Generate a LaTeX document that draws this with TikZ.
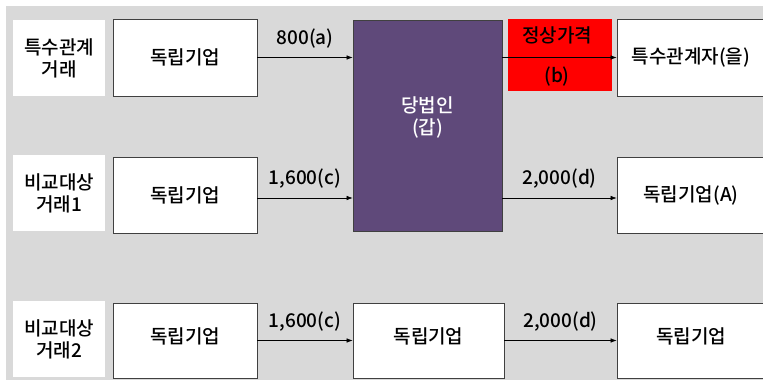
\documentclass[tikz,border=0pt]{standalone}
\usepackage{fontspec}
\setmainfont{Noto Sans CJK KR Medium}
\usetikzlibrary{arrows.meta}
\definecolor{bggray}{HTML}{D9D9D9}
\definecolor{gappurple}{HTML}{5F497A}
\definecolor{redbox}{HTML}{FF0000}
\tikzset{
  every node/.style={font=\fontsize{19}{22}\selectfont, inner sep=0pt},
  box/.style={draw=black!75, line width=0.8pt, fill=white, minimum height=76pt},
  tag/.style={fill=white, minimum width=92pt, minimum height=76pt, align=center},
  conn/.style={-{Latex[length=6pt,width=4.5pt]}, line width=0.6pt, black},
  amt/.style={above=9pt, midway}
}
\begin{document}
\begin{tikzpicture}[x=1pt,y=-1pt]
\useasboundingbox (0,0) rectangle (763,383);
\fill[bggray] (6,6) rectangle (770,380);

% row 1
\node[tag] (t1) at (59,58) {특수관계\\거래};
\node[box, minimum width=144pt, minimum height=77pt] (b1) at (185,57.5) {독립기업};
\node[draw=black!75, line width=0.8pt, fill=gappurple, minimum width=149pt, minimum height=211pt] (gap) at (427.5,125.5) {};
\node[text=white, align=center] (gaptext) at (427.5,117) {당법인\\(갑)};
\node[fill=redbox, minimum width=104pt, minimum height=72pt] (red) at (560,55) {};
\node (redtop) at (557,35) {정상가격};
\node (redbot) at (557,77) {(b)};
\node[box, minimum width=148pt, minimum height=77pt] (r1) at (691,57.5) {특수관계자(을)};

\draw[conn] (b1.east) -- node[amt] (l1) {800(a)} (gap.west |- b1.east);
\draw[conn] (gap.east |- r1.west) -- (r1.west);

% row 2
\node[tag] (t2) at (59,193) {비교대상\\거래1};
\node[box, minimum width=144pt] (b2) at (185,195) {독립기업};
\node[box, minimum width=148pt] (r2) at (691,195) {독립기업(A)};
\draw[conn] ([yshift=-3pt]b2.east) -- node[amt] (l2) {1,600(c)} ([yshift=-3pt]gap.west |- b2.east);
\draw[conn] ([yshift=-3pt]gap.east |- r2.west) -- node[amt] (l3) {2,000(d)} ([yshift=-3pt]r2.west);

% row 3
\node[tag] (t3) at (59,339) {비교대상\\거래2};
\node[box, minimum width=144pt, minimum height=75pt] (b3) at (185,340.5) {\raisebox{10pt}{독립기업}};
\node[box, minimum width=151pt, minimum height=75pt] (m3) at (428.5,340.5) {\raisebox{10pt}{독립기업}};
\node[box, minimum width=148pt, minimum height=75pt] (r3) at (691,340.5) {\raisebox{10pt}{독립기업}};
\draw[conn] (b3.east) -- node[amt] (l4) {1,600(c)} (m3.west);
\draw[conn] (m3.east) -- node[amt] (l5) {2,000(d)} (r3.west);
\end{tikzpicture}
\end{document}
